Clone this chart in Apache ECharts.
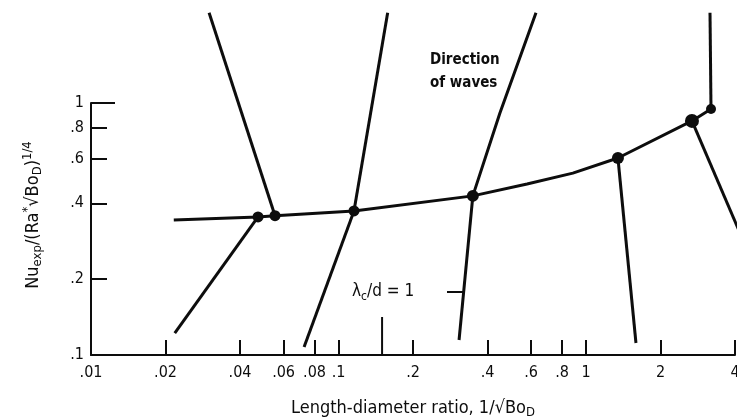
<!DOCTYPE html>
<html>
<head>
<meta charset="utf-8">
<script src="https://cdn.jsdelivr.net/npm/echarts@6/dist/echarts.min.js"></script>
<style>
  html, body { margin: 0; padding: 0; background: #fff; }
  #chart { width: 737px; height: 418px; }
</style>
</head>
<body>
<div id="chart"></div>
<script>
// tick marks (log-log plot)
var xTicks = [0.01, 0.02, 0.04, 0.06, 0.08, 0.1, 0.2, 0.4, 0.6, 0.8, 1, 2, 4];
var xTickLabels = ['.01', '.02', '.04', '.06', '.08', '.1', '.2', '.4', '.6', '.8', '1', '2', '4'];
var yTicks = [0.1, 0.2, 0.4, 0.6, 0.8, 1];
var yTickLabels = ['.1', '.2', '.4', '.6', '.8', '1'];

// main curve Nu_exp/(Ra*sqrt(Bo_D))^1/4 vs 1/sqrt(Bo_D)
var mainX = [0.0216, 0.0473, 0.0554, 0.1155, 0.349, 0.578, 0.885, 1.346, 2.68, 3.20];
var mainY = [0.343, 0.353, 0.357, 0.373, 0.428, 0.477, 0.527, 0.605, 0.849, 0.946];

// data points (dots)
var dotX = [0.0473, 0.0554, 0.1155, 0.349, 1.346, 2.68, 3.20];
var dotY = [0.353, 0.357, 0.373, 0.428, 0.605, 0.849, 0.946];

// "direction of waves" lines, [x, y]
var waveA1 = [[0.0218, 0.122], [0.0473, 0.353]];
var waveA2 = [[0.0554, 0.357], [0.030, 2.28]];
var waveB1 = [[0.0726, 0.1076], [0.1155, 0.373]];
var waveB2 = [[0.1155, 0.373], [0.158, 2.28]];
var waveC1 = [[0.307, 0.1147], [0.349, 0.428]];
var waveC2 = [[0.349, 0.428], [0.449, 0.912], [0.628, 2.28]];
var waveD = [[1.346, 0.605], [1.592, 0.1116]];
var waveE = [[2.68, 0.849], [4.19, 0.305]];
var waveF = [[3.20, 0.946], [3.17, 2.28]];

// stray marks on the axes
var extraTick = [[0.15, 0.1], [0.15, 0.1415]];
var topTick = [[0.01, 1], [0.0125, 1]];

var ink = '#0d0d0d';
var font = '"DejaVu Sans Condensed", "DejaVu Sans", sans-serif';
var lg = function (v) { return Math.log10(v); };
var toLog = function (pts) { return pts.map(function (p) { return [lg(p[0]), lg(p[1])]; }); };

function tickLabel(ticks, labels) {
  return function (v) {
    for (var i = 0; i < ticks.length; i++) {
      if (Math.abs(lg(ticks[i]) - v) < 1e-6) return labels[i];
    }
    return '';
  };
}

function lineSeries(pts, width) {
  return {
    type: 'line',
    data: toLog(pts),
    showSymbol: false,
    clip: false,
    silent: true,
    lineStyle: { color: ink, width: width || 3 },
    z: 3
  };
}

var series = [
  lineSeries(mainX.map(function (x, i) { return [x, mainY[i]]; })),
  lineSeries(waveA1), lineSeries(waveA2),
  lineSeries(waveB1), lineSeries(waveB2),
  lineSeries(waveC1), lineSeries(waveC2),
  lineSeries(waveD), lineSeries(waveE), lineSeries(waveF),
  lineSeries(extraTick, 2), lineSeries(topTick, 2),
  {
    type: 'scatter',
    data: dotX.map(function (x, i) { return [lg(x), lg(dotY[i])]; }),
    symbol: 'circle',
    symbolSize: function (v, p) { return [11, 11, 11, 12, 12, 14, 10][p.dataIndex]; },
    itemStyle: { color: ink, opacity: 1 },
    z: 5
  }
];

var chart = echarts.init(document.getElementById('chart'));
chart.setOption({
  animation: false,
  backgroundColor: '#fff',
  grid: { left: 91, right: 2, top: 103, bottom: 63, outerBoundsMode: 'none' },
  xAxis: {
    type: 'value',
    min: -2,
    max: lg(4),
    name: 'Length-diameter ratio, 1/√Bo{s|D}',
    nameLocation: 'middle',
    nameGap: 42,
    nameTextStyle: {
      color: ink, fontFamily: font, fontSize: 18,
      rich: { s: { fontSize: 13, fontFamily: font, color: ink, padding: [9, 0, 0, 0] } }
    },
    axisLine: { onZero: false, lineStyle: { color: ink, width: 2 } },
    axisTick: {
      customValues: xTicks.map(lg),
      inside: true,
      length: 15,
      lineStyle: { color: ink, width: 2 }
    },
    axisLabel: {
      customValues: xTicks.map(lg),
      formatter: tickLabel(xTicks, xTickLabels),
      color: ink, fontFamily: font, fontSize: 16, margin: 10
    },
    splitLine: { show: false }
  },
  yAxis: {
    type: 'value',
    min: -1,
    max: 0,
    axisLine: { show: true, onZero: false, lineStyle: { color: ink, width: 2 } },
    axisTick: {
      customValues: yTicks.map(lg),
      inside: true,
      length: 16,
      lineStyle: { color: ink, width: 2 }
    },
    axisLabel: {
      customValues: yTicks.map(lg),
      formatter: tickLabel(yTicks, yTickLabels),
      color: ink, fontFamily: font, fontSize: 16, margin: 7
    },
    splitLine: { show: false }
  },
  graphic: [
    {
      type: 'text',
      x: 33, y: 215,
      rotation: Math.PI / 2,
      style: {
        text: 'Nu{s|exp}/(Ra{p|*}√Bo{s|D}){p|1/4}',
        align: 'center', verticalAlign: 'middle',
        fill: ink, font: '18px ' + font,
        rich: {
          s: { fontSize: 13, fontFamily: font, fill: ink, padding: [10, 0, 0, 0] },
          p: { fontSize: 13, fontFamily: font, fill: ink, padding: [0, 0, 10, 0] }
        }
      }
    },
    {
      type: 'text',
      left: 430, top: 49,
      style: {
        text: 'Direction\nof waves',
        fill: ink, font: 'bold 15px ' + font, lineHeight: 23
      }
    },
    {
      type: 'text',
      x: 352, y: 292,
      style: {
        text: 'λ{s|c}/d = 1',
        verticalAlign: 'middle',
        fill: ink, font: '17px ' + font,
        rich: { s: { fontSize: 12, fontFamily: font, fill: ink, padding: [10, 0, 0, 0] } }
      }
    },
    {
      type: 'line',
      shape: { x1: 447, y1: 292, x2: 463, y2: 292 },
      style: { stroke: ink, lineWidth: 2 }
    }
  ],
  series: series
});
</script>
</body>
</html>
